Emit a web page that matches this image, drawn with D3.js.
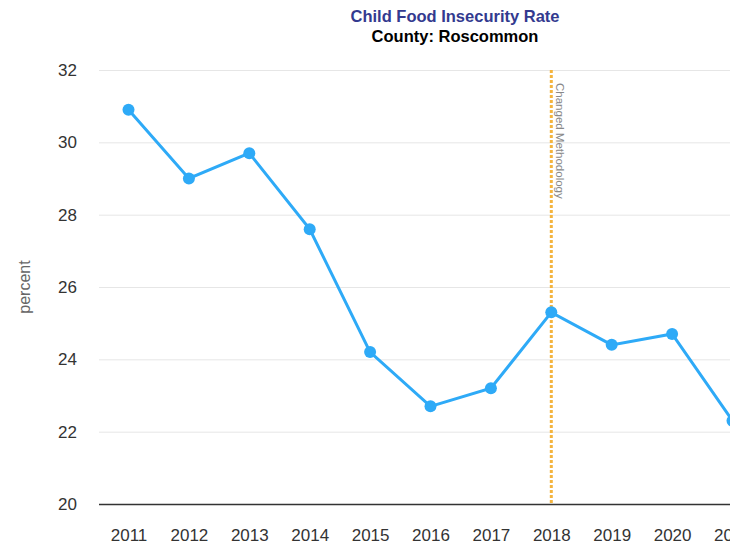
<!DOCTYPE html>
<html>
<head>
<meta charset="utf-8">
<script src="https://cdn.jsdelivr.net/npm/d3@7"></script>
<style>
  body { margin: 0; background: #fff; font-family: "Liberation Sans", Arial, sans-serif; }
  svg { display: block; }
</style>
</head>
<body>
<script>
// chart data
var years = [2011, 2012, 2013, 2014, 2015, 2016, 2017, 2018, 2019, 2020, 2021]
var rates = [30.9, 29.0, 29.7, 27.6, 24.2, 22.7, 23.2, 25.3, 24.4, 24.7, 22.3]
var yTicks = [20, 22, 24, 26, 28, 30, 32]
var methodYear = 2018
var methodLabel = "Changed Methodology"

var W = 743, H = 548
var plot = {left: 99, right: 730, top: 70, bottom: 504}

var svg = d3.select("body").append("svg")
  .attr("width", W)
  .attr("height", H)

// x is a linear year scale, the last year runs past the visible plot edge
var x = d3.scaleLinear()
  .domain([2011, 2021])
  .range([128.5, 732.5])

var y = d3.scaleLinear()
  .domain([20, 32])
  .range([plot.bottom, plot.top])

// title
svg.append("text")
  .attr("x", 455).attr("y", 22)
  .attr("text-anchor", "middle")
  .style("font-size", "16.5px").style("font-weight", "bold")
  .style("fill", "#333a8f")
  .text("Child Food Insecurity Rate")
svg.append("text")
  .attr("x", 455).attr("y", 42)
  .attr("text-anchor", "middle")
  .style("font-size", "16.5px").style("font-weight", "bold")
  .style("fill", "#000")
  .text("County: Roscommon")

// grid lines
svg.append("g")
  .selectAll("line")
  .data(yTicks.filter(function(d) { return d > 20 }))
  .enter().append("line")
  .attr("x1", plot.left).attr("x2", plot.right)
  .attr("y1", function(d) { return y(d) + 0.5 })
  .attr("y2", function(d) { return y(d) + 0.5 })
  .style("stroke", "#e6e6e6")
  .style("stroke-width", 1)

// y axis labels
var yAxis = d3.axisLeft(y).tickValues(yTicks).tickSize(0).tickPadding(22)
var gy = svg.append("g")
  .attr("transform", "translate(" + plot.left + ",0)")
  .call(yAxis)
gy.select(".domain").remove()
gy.selectAll("text")
  .style("font-family", "'Liberation Sans', Arial, sans-serif")
  .style("font-size", "17px")
  .style("fill", "#333")

svg.append("text")
  .attr("transform", "translate(30,287) rotate(-90)")
  .attr("text-anchor", "middle")
  .style("font-size", "16px")
  .style("fill", "#666")
  .text("percent")

// clip the series and the year labels at the plot edge, like the original
svg.append("clipPath").attr("id", "plotclip")
  .append("rect")
  .attr("x", 0).attr("y", 0)
  .attr("width", plot.right).attr("height", H)

// x axis
var xAxis = d3.axisBottom(x).tickValues(years).tickFormat(d3.format("d")).tickSize(0).tickPadding(25)
var gx = svg.append("g")
  .attr("clip-path", "url(#plotclip)")
  .append("g")
  .attr("transform", "translate(0," + plot.bottom + ")")
  .call(xAxis)
gx.select(".domain").remove()
gx.selectAll("text")
  .style("font-family", "'Liberation Sans', Arial, sans-serif")
  .style("font-size", "17px")
  .style("fill", "#333")

svg.append("line")
  .attr("x1", plot.left).attr("x2", plot.right)
  .attr("y1", plot.bottom + 0.5).attr("y2", plot.bottom + 0.5)
  .style("stroke", "#333")
  .style("stroke-width", 1.5)

// methodology marker
svg.append("line")
  .attr("x1", x(methodYear)).attr("x2", x(methodYear))
  .attr("y1", plot.top).attr("y2", plot.bottom)
  .style("stroke", "#f4b43e")
  .style("stroke-width", 3)
  .style("stroke-dasharray", "3,2")
svg.append("text")
  .attr("transform", "translate(" + (x(methodYear) + 5) + "," + (plot.top + 13) + ") rotate(90)")
  .style("font-size", "11.5px")
  .style("fill", "#888")
  .text(methodLabel)

var series = svg.append("g").attr("clip-path", "url(#plotclip)")
var line = d3.line()
  .x(function(d, i) { return x(years[i]) })
  .y(function(d) { return y(d) })

series.append("path")
  .datum(rates)
  .attr("d", line)
  .style("fill", "none")
  .style("stroke", "#2eaaf7")
  .style("stroke-width", 3)

series.selectAll(".dot")
  .data(rates)
  .enter().append("circle")
  .attr("class", "dot")
  .attr("cx", function(d, i) { return x(years[i]) })
  .attr("cy", function(d) { return y(d) })
  .attr("r", 6)
  .style("fill", "#2eaaf7")
</script>
</body>
</html>
